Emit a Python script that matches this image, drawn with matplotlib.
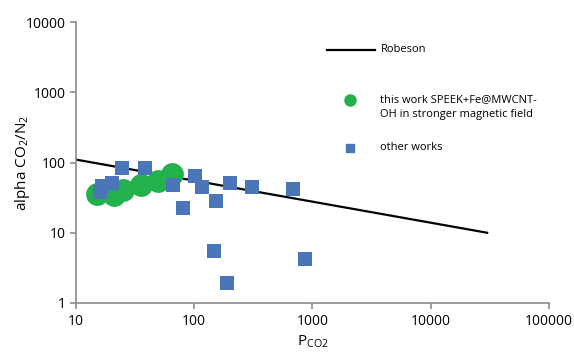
import matplotlib
matplotlib.use("Agg")
import matplotlib.pyplot as plt
from matplotlib.lines import Line2D
from matplotlib.ticker import FixedLocator, FixedFormatter, NullLocator

# Robeson upper bound (two end points)
robeson_p = [10, 30000]
robeson_alpha = [110, 10]

# this work: SPEEK+Fe@MWCNT-OH in stronger magnetic field
this_p = [15.0, 20.9, 24.9, 35.4, 49.3, 64.7]
this_alpha = [35.7, 34.6, 40.7, 47.9, 54.8, 69.0]

# other works
other_p = [16.0, 16.6, 20.1, 24.5, 38.3, 66.1, 80.2, 101, 116, 152, 147, 189, 200, 307, 682, 864]
other_alpha = [38.1, 46.4, 51.3, 84, 84, 48, 22.5, 64.6, 45, 28.4, 5.5, 1.91, 51.3, 45, 42, 4.2]

green = "#22B14C"
blue = "#4A76B8"
gray = "#8C8C8C"

plt.rcParams['font.family'] = ['Open Sans', 'DejaVu Sans']

fig = plt.figure(figsize=(5.74, 3.55), dpi=100)
ax = fig.add_axes([0.1324, 0.1465, 0.824, 0.7915])

ax.plot(robeson_p, robeson_alpha, color="black", lw=1.6, zorder=2)
ax.scatter(this_p, this_alpha, s=270, color=green, zorder=3, linewidths=0)
ax.scatter(other_p, other_alpha, s=105, marker="s", color=blue, zorder=4, linewidths=0)

ax.set_xscale("log")
ax.set_yscale("log")
ax.set_xlim(10, 100000)
ax.set_ylim(1, 10000)

xt = [10, 100, 1000, 10000, 100000]
yt = [1, 10, 100, 1000, 10000]
ax.xaxis.set_major_locator(FixedLocator(xt))
ax.xaxis.set_major_formatter(FixedFormatter([str(v) for v in xt]))
ax.yaxis.set_major_locator(FixedLocator(yt))
ax.yaxis.set_major_formatter(FixedFormatter([str(v) for v in yt]))
ax.xaxis.set_minor_locator(NullLocator())
ax.yaxis.set_minor_locator(NullLocator())

for s in ["top", "right"]:
    ax.spines[s].set_visible(False)
for s in ["left", "bottom"]:
    ax.spines[s].set_color(gray)
    ax.spines[s].set_linewidth(1.2)
ax.tick_params(axis="both", colors=gray, labelcolor="black", labelsize=10, length=4, width=1.2, direction="out")
ax.tick_params(axis="x", pad=4)

ax.set_xlabel(r"P$_{\mathregular{CO2}}$", fontsize=11, va="center")
ax.set_ylabel(r"alpha CO$_{\mathregular{2}}$/N$_{\mathregular{2}}$", fontsize=11, va="center")
ax.xaxis.set_label_coords(0.5, -0.138)
ax.yaxis.set_label_coords(-0.114, 0.5)

# legend drawn by hand
fig.add_artist(Line2D([327 / 574, 375 / 574], [1 - 50 / 355, 1 - 50 / 355], color="black", lw=1.6))
fig.text(381 / 574, 1 - 50 / 355, "Robeson", fontsize=8, va="center")
fig.add_artist(Line2D([350 / 574], [1 - 100 / 355], marker="o", color=green, markersize=8, lw=0))
fig.text(380 / 574, 1 - 107 / 355, "this work SPEEK+Fe@MWCNT-\nOH in stronger magnetic field", fontsize=8, va="center", linespacing=1.5)
fig.add_artist(Line2D([350 / 574], [1 - 148 / 355], marker="s", color=blue, markersize=6, lw=0))
fig.text(380 / 574, 1 - 148 / 355, "other works", fontsize=8, va="center")

fig.savefig("out.png", dpi=100)
